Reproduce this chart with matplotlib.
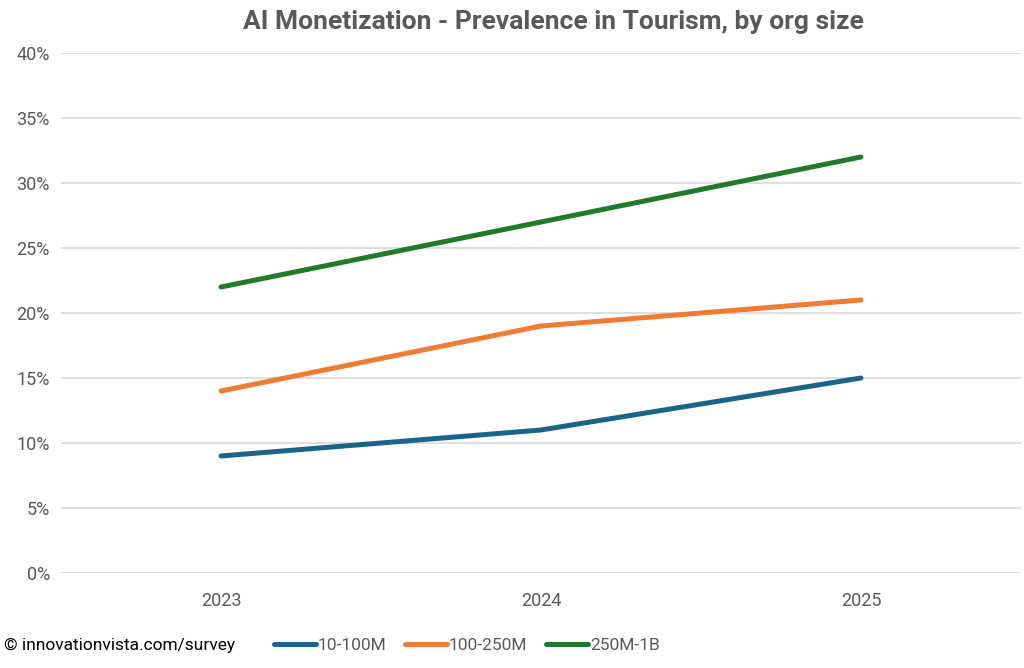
import matplotlib.pyplot as plt
from matplotlib.ticker import PercentFormatter

# Datos
years = ['2023', '2024', '2025']
small = [9, 11, 15]       # 10-100M
mid = [14, 19, 21]        # 100-250M
large = [22, 27, 32]      # 250M-1B
series_names = ['10-100M', '100-250M', '250M-1B']
colors = ['#1B6489', '#F07B32', '#217A2C']

plt.rcParams['font.family'] = ['Liberation Sans Narrow', 'Roboto', 'DejaVu Sans']

fig = plt.figure(figsize=(10.24, 6.68), dpi=100)
ax = fig.add_axes([0.0596, 0.1422, 0.9374, 0.7785])

x = range(len(years))
for vals, name, c in zip([small, mid, large], series_names, colors):
    ax.plot(x, vals, color=c, linewidth=3.6, label=name, solid_capstyle='round')

ax.set_xlim(-0.5, 2.5)
ax.set_ylim(0, 40)
ax.set_yticks(range(0, 41, 5))
ax.yaxis.set_major_formatter(PercentFormatter(decimals=0))
ax.set_xticks(list(x))
ax.set_xticklabels(years)
ax.grid(axis='y', color='#D9D9D9', linewidth=1.2)
ax.set_axisbelow(True)
for s in ax.spines.values():
    s.set_visible(False)
ax.tick_params(length=0, labelsize=13, colors='#595959', pad=8)
ax.tick_params(axis='x', pad=14)

fig.suptitle('AI Monetization - Prevalence in Tourism, by org size',
             x=0.54, fontsize=19, fontweight='bold', color='#595959', y=0.985)

fig.legend(loc='center', bbox_to_anchor=(0.456, 0.034), ncol=3, frameon=False,
           fontsize=12.5, handlelength=2.4, handletextpad=0.1, columnspacing=1.1,
           labelcolor='#595959')
fig.text(0.004, 0.034, '© innovationvista.com/survey', fontsize=12.5,
         color='black', va='center', ha='left')

fig.savefig('out.png', dpi=100)
